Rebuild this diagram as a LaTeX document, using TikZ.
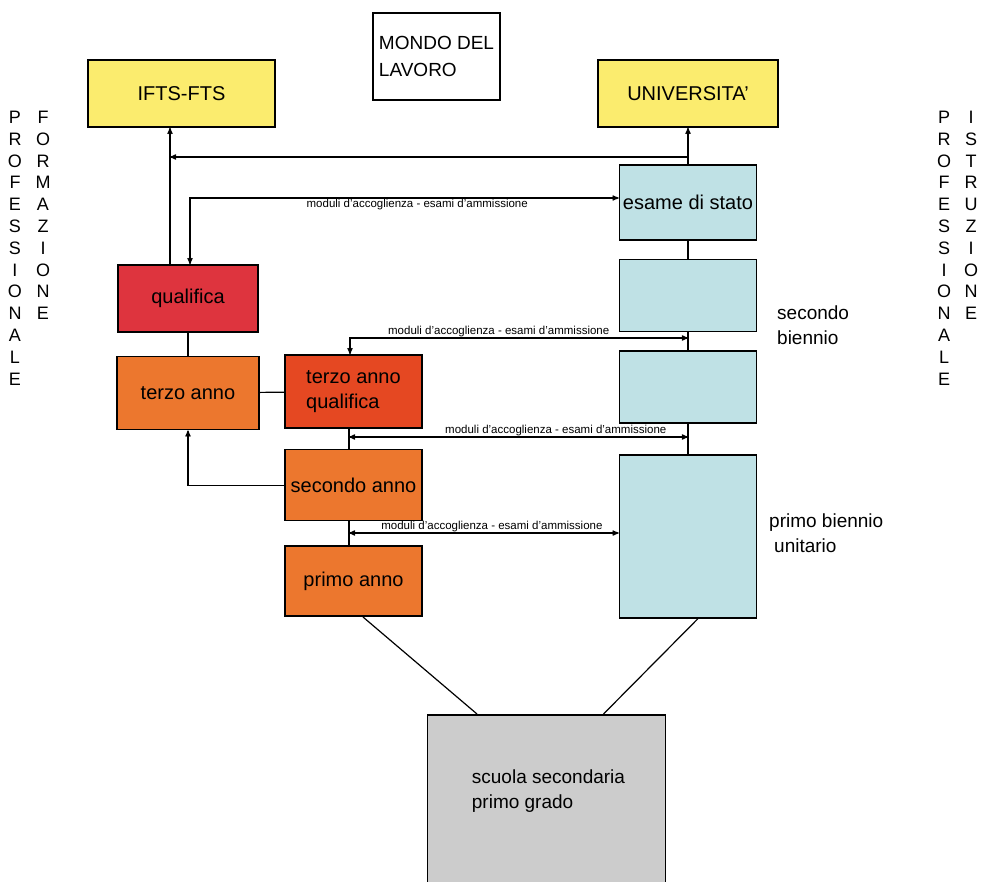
\documentclass[tikz,border=0pt]{standalone}
\usepackage{fontspec}
\setmainfont{Liberation Sans}
\usepackage{tikz}
\usepackage{xcolor}
\usetikzlibrary{calc,positioning,arrows,shapes}
\definecolor{giallino}{RGB}{251,236,110}
\definecolor{rossoq}{RGB}{222,52,62}
\definecolor{arancio}{RGB}{236,119,46}
\definecolor{rossoarancio}{RGB}{229,72,34}
\definecolor{azzurro}{RGB}{191,225,229}
\definecolor{grigio}{RGB}{204,204,204}
\tikzset{
>=stealth',
  myarrow/.style={draw, line width=1.2pt},
  modulo/.style={font=\fontsize{11.5}{13}\selectfont, inner sep=1pt},
  verticale/.style={anchor=north, align=center, inner sep=0pt, font=\fontsize{18}{21.8}\selectfont},
  didascalia/.style={anchor=west, align=left, inner sep=0pt, font=\fontsize{19}{25}\selectfont},
}

\begin{document}
\begin{tikzpicture}[x=1pt, y=-1pt, node distance=18pt]
    \tikzset{
        action/.style={rectangle, draw=black, line width=1.6pt, inner sep=0pt, font=\fontsize{20}{25}\selectfont, text centered},
        uscita/.style={action, fill=giallino, minimum height=67pt},
        biennio/.style={action, fill=azzurro, minimum width=137pt},
        anno/.style={action, fill=arancio, minimum width=137pt},
    }
    \useasboundingbox (0,0) rectangle (981,882);

    % uscite in alto
    \node[uscita, minimum width=187pt] (ifts) at (181.5,93.5) {IFTS-FTS};
    \node[action, fill=white, minimum width=127pt, minimum height=87pt, align=left, font=\fontsize{19}{27}\selectfont] (mondo) at (436.5,56.5) {MONDO DEL\\LAVORO};
    \node[uscita, minimum width=180pt] (univ) at (688,93.5) {UNIVERSITA'};

    % istruzione professionale
    \node[biennio, minimum height=75pt] (esame) at (688,202.5) {esame di stato};
    \node[biennio, minimum height=72pt, below=18pt of esame] (blu2) {};
    \node[biennio, minimum height=72pt, below=18pt of blu2] (blu3) {};
    \node[biennio, minimum height=163pt, below=30pt of blu3] (bienn) {};

    % formazione professionale
    \node[action, fill=rossoq, minimum width=140pt, minimum height=67pt] (qual) at (188,298.5) {qualifica};
    \node[anno, minimum width=142pt, minimum height=73pt, below=23pt of qual] (terzo) {terzo anno};
    \node[action, fill=rossoarancio, minimum width=137pt, minimum height=73pt, align=left] (tq) at (353.5,391.5) {terzo anno\\qualifica};
    \node[anno, minimum height=71pt, below=20pt of tq] (sec) {secondo anno};
    \node[anno, minimum height=70pt, below=24pt of sec] (primo) {primo anno};

    \node[action, fill=grigio, minimum width=238pt, minimum height=172pt, anchor=north] (scuola) at (546.5,714) {};
    \node[didascalia] (scuolatesto) at ($(scuola.north west)+(45,77.5)$) {scuola secondaria\\primo grado};

    \node[didascalia] (secbien) at (777,325.5) {secondo\\biennio};
    \node[didascalia] (primobien) at (769,533) {primo biennio\\\hspace*{5pt}unitario};

    \node[verticale] (profL) at (15,111) {P\\R\\O\\F\\E\\S\\S\\I\\O\\N\\A\\L\\E};
    \node[verticale] (formL) at (43,111) {F\\O\\R\\M\\A\\Z\\I\\O\\N\\E};
    \node[verticale] (profR) at (944,111) {P\\R\\O\\F\\E\\S\\S\\I\\O\\N\\A\\L\\E};
    \node[verticale] (istrR) at (971,111) {I\\S\\T\\R\\U\\Z\\I\\O\\N\\E};

    \coordinate (nodoU) at (688,157);
    \coordinate (nodoI) at (170,157);
    \coordinate (angoloA) at (190,198);
    \coordinate (angoloB) at (350,338);
    \coordinate (latoC) at (349,437);
    \coordinate (latoD) at (349,533);

    \path[myarrow, ->] (esame.north) -- (univ.south);
    \path[myarrow, ->] (nodoU) -- (nodoI);
    \path[myarrow, ->] (qual.north -| nodoI) -- (ifts.south -| nodoI);
    \path[myarrow, <->] (qual.north -| angoloA) -- (angoloA) -- node[modulo, below, pos=0.53] (mod1) {moduli d'accoglienza - esami d'ammissione} (angoloA -| esame.west);

    \path[myarrow] (esame) -- (blu2);
    \path[myarrow] (blu2) -- (blu3);
    \path[myarrow] (blu3) -- (bienn);

    \path[myarrow, <->] (tq.north -| angoloB) -- (angoloB) -- node[modulo, above, pos=0.44] (mod2) {moduli d'accoglienza - esami d'ammissione} (angoloB -| blu2.south);
    \path[myarrow] (qual) -- (terzo);
    \path[myarrow] (terzo) -- (tq);
    \path[myarrow] (tq.south -| latoC) -- (sec.north -| latoC);
    \path[myarrow, <->] (latoC) -- node[modulo, above, pos=0.61] (mod3) {moduli d'accoglienza - esami d'ammissione} (latoC -| blu3.south);
    \path[myarrow, ->] (sec.west) -| (terzo.south);
    \path[myarrow] (sec.south -| latoD) -- (primo.north -| latoD);
    \path[myarrow, <->] (latoD) -- node[modulo, above, pos=0.53] (mod4) {moduli d'accoglienza - esami d'ammissione} (latoD -| bienn.west);

    \path[myarrow] ($(primo.south)+(9.5,0)$) -- ($(scuola.north)+(-69.5,0)$);
    \path[myarrow] ($(bienn.south)+(10,0)$) -- ($(scuola.north)+(57,0)$);

    \end{tikzpicture}
\end{document}
